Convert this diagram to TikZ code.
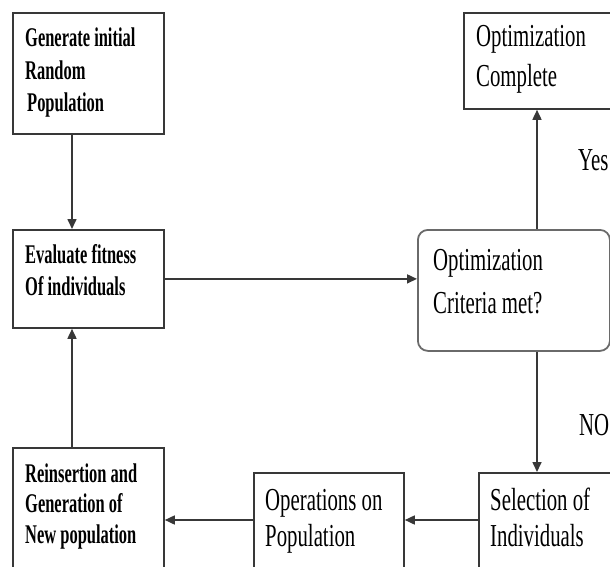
\documentclass[tikz,border=0pt]{standalone}
\usepackage{fontspec}
\usetikzlibrary{arrows.meta}
\newfontfamily\regfont[FakeStretch=0.65]{Liberation Serif}
\newfontfamily\boldfontx[FakeStretch=0.61]{Liberation Serif}
\definecolor{lineclr}{HTML}{383838}
\definecolor{critclr}{HTML}{6A6A6A}
\begin{document}
\begin{tikzpicture}[x=1pt,y=-1pt,
  box/.style={draw=lineclr,line width=1.8pt,rectangle,inner sep=0pt,anchor=north west},
  critbox/.style={draw=critclr,line width=1.8pt,rectangle,rounded corners=10pt,inner sep=0pt,anchor=north west},
  btext/.style={anchor=base west,inner sep=0pt,align=left,font=\boldfontx\bfseries\fontsize{27}{32}\selectfont},
  rtext/.style={anchor=base west,inner sep=0pt,align=left,font=\regfont\fontsize{32}{36}\selectfont},
  arr/.style={draw=lineclr,line width=1.6pt,-{Triangle[length=10pt,width=9pt]}}]
\useasboundingbox (0,0) rectangle (610,567);
\clip (0,0) rectangle (610,567);
% boxes
\node[box,minimum width=151pt,minimum height=121pt] (gen) at (12,12) {};
\node[box,minimum width=151pt,minimum height=98pt] (eval) at (12,229) {};
\node[box,minimum width=151pt,minimum height=140pt] (reins) at (12,447) {};
\node[box,minimum width=150pt,minimum height=120pt] (ops) at (253,472) {};
\node[box,minimum width=160pt,minimum height=120pt] (sel) at (478,472) {};
\node[box,minimum width=170pt,minimum height=96pt] (comp) at (463,12) {};
\node[critbox,minimum width=192pt,minimum height=121pt] (crit) at (417,229) {};
% texts (anchored at the baseline of their last line)
\node[btext,font=\boldfontx\bfseries\fontsize{27}{32.5}\selectfont] (gentxt) at (25,112) {Generate initial\\Random\\\hspace{2pt}Population};
\node[btext,font=\boldfontx\bfseries\fontsize{27}{32}\selectfont] (evaltxt) at (25,295) {Evaluate fitness\\Of individuals};
\node[btext,font=\boldfontx\bfseries\fontsize{27}{30.5}\selectfont] (reinstxt) at (25,543) {Reinsertion and\\Generation of\\New population};
\node[rtext] (opstxt) at (265,546) {Operations on\\Population};
\node[rtext] (seltxt) at (490,546) {Selection of\\Individuals};
\node[rtext,font=\regfont\fontsize{32}{43}\selectfont] (crittxt) at (433,313) {Optimization\\Criteria met?};
\node[rtext,font=\regfont\fontsize{32}{40}\selectfont] (comptxt) at (476,87) {Optimization\\Complete};
\node[rtext] (yes) at (578,170) {Yes};
\node[rtext] (no) at (579,435) {NO};
% helper coordinates
\coordinate (lcol) at (72,0);
\coordinate (rcol) at (537,0);
\coordinate (brow) at (0,520);
% connectors
\draw[arr] (gen.south -| lcol) -- (eval.north -| lcol);
\draw[arr] (eval.east) -- (eval.east -| crit.west);
\draw[arr] (crit.north -| rcol) -- (comp.south -| rcol);
\draw[arr] (crit.south -| rcol) -- (sel.north -| rcol);
\draw[arr] (sel.west |- brow) -- (ops.east |- brow);
\draw[arr] (ops.west |- brow) -- (reins.east |- brow);
\draw[arr] (reins.north -| lcol) -- (eval.south -| lcol);
\end{tikzpicture}
\end{document}
